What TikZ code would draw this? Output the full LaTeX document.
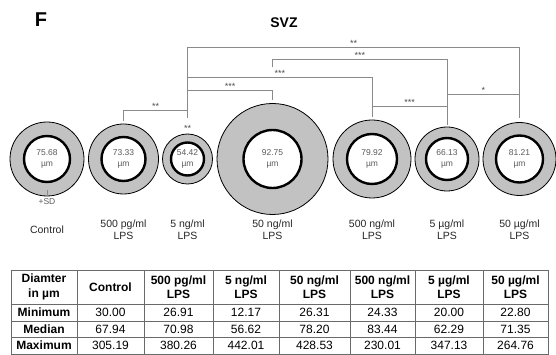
\documentclass[tikz,border=0pt]{standalone}
\usepackage{fontspec}
\setmainfont{Liberation Sans}
\usetikzlibrary{positioning}

\definecolor{ringgray}{HTML}{C2C2C2}
\definecolor{txtgray}{HTML}{5A5A5A}
\definecolor{brgray}{HTML}{8A8A8A}
\definecolor{gridgray}{HTML}{6A6A6A}

\begin{document}
\begin{tikzpicture}[x=1pt,y=-1pt,
  outer ring/.style={circle,draw,line width=0.8pt,fill=ringgray,inner sep=0pt},
  inner ring/.style={circle,draw,line width=2.4pt,fill=white,inner sep=0pt,align=center,
    text=txtgray,font=\fontsize{8.5}{11}\selectfont},
  group label/.style={align=center,text=black!85,font=\fontsize{10.5}{12.5}\selectfont},
  stars/.style={above,inner sep=0.5pt,text=black!70,font=\fontsize{9}{9}\selectfont},
  bracket/.style={draw=brgray,line width=1pt},
  grid/.style={draw=gridgray,line width=1pt},
  cell/.style={align=center,inner sep=0pt,font=\fontsize{12}{14.5}\selectfont},
  head/.style={cell,font=\fontsize{12}{14.5}\selectfont\bfseries}]

  \useasboundingbox (0,0) rectangle (556,355);

  \node[font=\fontsize{20}{20}\selectfont\bfseries] (panel) at (41,20) {F};
  \node[font=\fontsize{14}{14}\selectfont\bfseries] (title) at (284,23) {SVZ};

  % rings: outer = SD, inner = mean diameter
  \node[outer ring,minimum size=74pt]  (o1) at (47,159) {};
  \node[inner ring,minimum size=46pt]  (c1) at (o1) {75.68\\µm};
  \node[outer ring,minimum size=70pt]  (o2) at (123.5,159) {};
  \node[inner ring,minimum size=44pt]  (c2) at (o2) {73.33\\µm};
  \node[outer ring,minimum size=50pt]  (o3) at (187.5,159) {};
  \node[inner ring,minimum size=33pt]  (c3) at (o3) {54.42\\µm};
  \node[outer ring,minimum size=111pt] (o4) at (272.5,159) {};
  \node[inner ring,minimum size=58pt]  (c4) at (o4) {92.75\\µm};
  \node[outer ring,minimum size=78pt]  (o5) at (372,159) {};
  \node[inner ring,minimum size=50pt]  (c5) at (o5) {79.92\\µm};
  \node[outer ring,minimum size=64pt]  (o6) at (447,159) {};
  \node[inner ring,minimum size=42pt]  (c6) at (o6) {66.13\\µm};
  \node[outer ring,minimum size=73pt]  (o7) at (519.5,159) {};
  \node[inner ring,minimum size=47pt]  (c7) at (o7) {81.21\\µm};

  \draw[brgray,line width=0.8pt] (o1.south) -- ++(0,-6);
  \node[text=txtgray,inner sep=1pt,font=\fontsize{8.5}{9}\selectfont,below=1pt of o1] (sd) {+SD};

  \node[group label] (l1) at (47,229.5) {Control};
  \node[group label] (l2) at (123.5,229.5) {500 pg/ml\\LPS};
  \node[group label] (l3) at (187.5,229.5) {5 ng/ml\\LPS};
  \node[group label] (l4) at (272.5,229.5) {50 ng/ml\\LPS};
  \node[group label] (l5) at (372,229.5) {500 ng/ml\\LPS};
  \node[group label] (l6) at (447,229.5) {5 µg/ml\\LPS};
  \node[group label] (l7) at (519.5,229.5) {50 µg/ml\\LPS};

  % leg ends of the brackets
  \coordinate (t2) at ([yshift=3pt]o2.north);
  \coordinate (t3) at ([yshift=16pt]o3.north);
  \coordinate (t4) at ([yshift=3.5pt]o4.north);
  \coordinate (s4) at ([yshift=36.5pt]o4.north);
  \coordinate (t5) at ([yshift=3pt]o5.north);
  \coordinate (t6) at ([yshift=2pt]o6.north);
  \coordinate (t7) at ([yshift=4.5pt]o7.north);

  \node[stars,yshift=1pt] (st3) at (o3.north) {**};

  \path[bracket]
    (t2) -- ++(0,-10) -| node[stars,pos=.25] {**} (t3)
    (t3) -- ++(0,-27) -| node[stars,pos=.25] {***} (t4)
    (t3) -- ++(0,-40) -| node[stars,pos=.25] {***} (t5)
    (t3) -- ++(0,-70) -| node[stars,pos=.25] {**} (t7)
    (s4) -- ++(0,-7)  -| node[stars,pos=.25] {***} (t6)
    (t5) -- ++(0,-10) -| node[stars,pos=.25] {***} (t6)
    (t6) -- ++(0,-30) -| node[stars,pos=.25] {*} (t7);

  % table
  \draw[grid] (11,270) rectangle (548,354);
  \foreach \x in {77,144,213,279,350,415,483}
    \draw[grid] (\x,270) -- (\x,354);
  \foreach \y in {304,321,337}
    \draw[grid] (11,\y) -- (548,\y);

  \node[head] (h0)  at (44,287)   {Diamter\\in µm};
  \node[head] (mn0) at (44,312.5) {Minimum};
  \node[head] (md0) at (44,329)   {Median};
  \node[head] (mx0) at (44,345.5) {Maximum};
  \foreach \x/\grp/\mn/\md/\mx [count=\i] in {
      110.5/Control/30.00/67.94/305.19,
      178.5/{500 pg/ml\\LPS}/26.91/70.98/380.26,
      246/{5 ng/ml\\LPS}/12.17/56.62/442.01,
      314.5/{50 ng/ml\\LPS}/26.31/78.20/428.53,
      382.5/{500 ng/ml\\LPS}/24.33/83.44/230.01,
      449/{5 µg/ml\\LPS}/20.00/62.29/347.13,
      515.5/{50 µg/ml\\LPS}/22.80/71.35/264.76} {
    \node[head] (h\i)  at (\x,287)   {\grp};
    \node[cell] (mn\i) at (\x,312.5) {\mn};
    \node[cell] (md\i) at (\x,329)   {\md};
    \node[cell] (mx\i) at (\x,345.5) {\mx};
  }
\end{tikzpicture}
\end{document}
